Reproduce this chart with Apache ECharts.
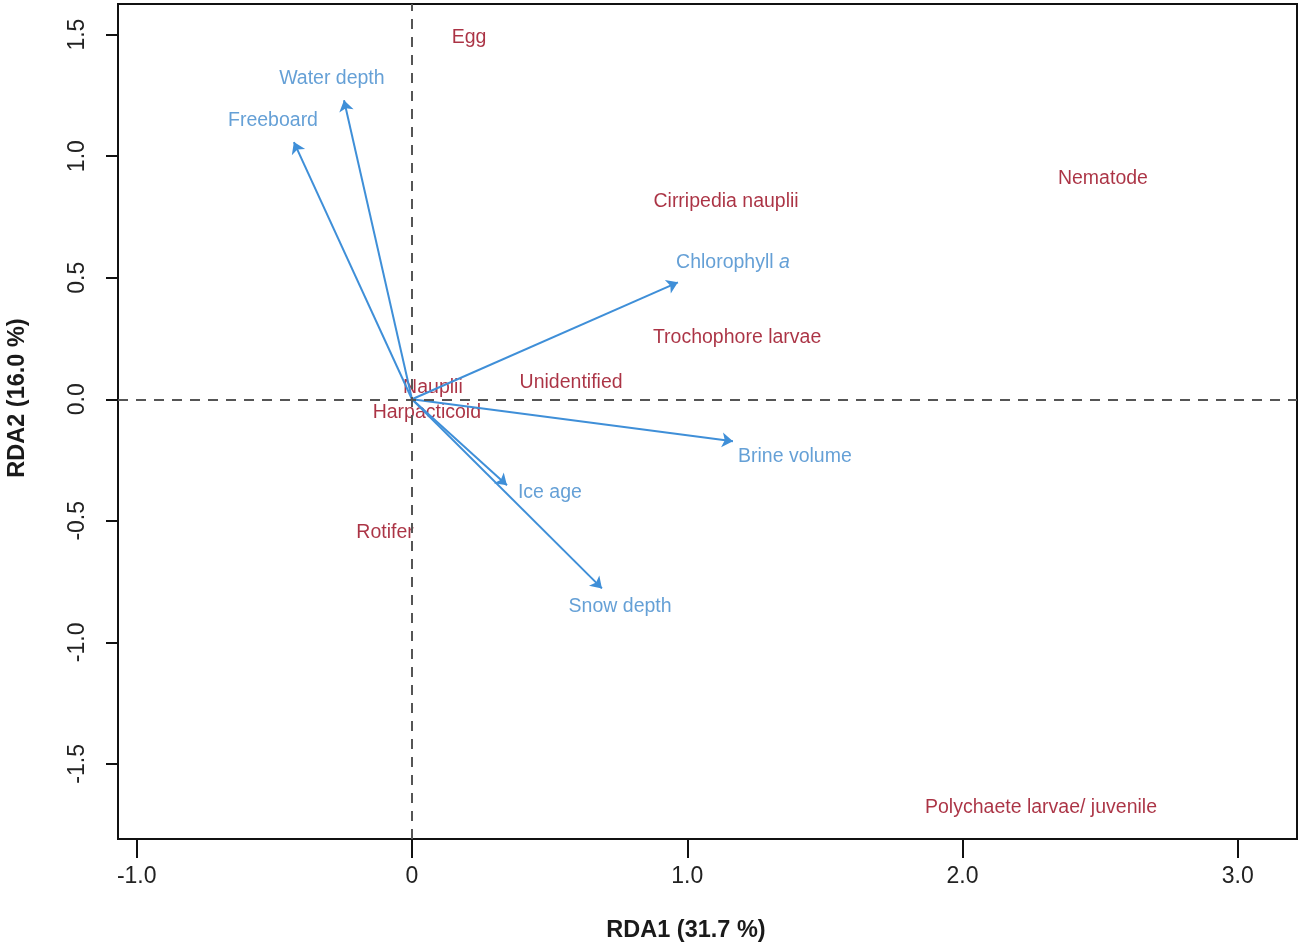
<!DOCTYPE html>
<html>
<head>
  <meta charset="UTF-8">
  <title>RDA biplot</title>
  <script src="https://cdn.jsdelivr.net/npm/echarts@6/dist/echarts.min.js"></script>
  <style>
    html, body { margin: 0; padding: 0; background: #fff; }
    #main { width: 1303px; height: 946px; }
  </style>
</head>
<body>
  <div id="main"></div>
  <script>
    // environmental variables: arrow tips and label positions
    var envNames = ['Water depth', 'Freeboard', 'Chlorophyll a', 'Brine volume', 'Ice age', 'Snow depth'];
    var envX = [-0.247, -0.429, 0.966, 1.166, 0.345, 0.690];
    var envY = [1.230, 1.058, 0.481, -0.173, -0.354, -0.778];
    var envLabelX = [-0.291, -0.505, 1.166, 1.391, 0.501, 0.756];
    var envLabelY = [1.321, 1.148, 0.564, -0.235, -0.383, -0.852];

    // species scores
    var spNames = ['Egg', 'Nematode', 'Cirripedia nauplii', 'Trochophore larvae', 'Unidentified',
      'Nauplii', 'Harpacticoid', 'Rotifer', 'Polychaete larvae/ juvenile'];
    var spX = [0.207, 2.510, 1.141, 1.181, 0.578, 0.076, 0.054, -0.098, 2.285];
    var spY = [1.486, 0.909, 0.811, 0.255, 0.070, 0.049, -0.053, -0.547, -1.679];

    // tick labels
    var xTicks = [-1, 0, 1, 2, 3];
    var yTicks = [-1.5, -1, -0.5, 0, 0.5, 1, 1.5];

    var blueLine = '#3f8fd8';
    var blueText = '#3f88cc';
    var redText = '#960016';
    var font = 'Liberation Sans, Arial, sans-serif';

    var arrows = [];
    var envLabels = [];
    for (var i = 0; i < envNames.length; i++) {
      arrows.push({ coords: [[0, 0], [envX[i], envY[i]]] });
      envLabels.push({ name: envNames[i], value: [envLabelX[i], envLabelY[i]] });
    }
    var spData = [];
    for (var j = 0; j < spNames.length; j++) {
      spData.push({ name: spNames[j], value: [spX[j], spY[j]] });
    }

    var myChart = echarts.init(document.getElementById('main'));
    var option = {
      animation: false,
      grid: {
        left: 118, right: 6, top: 4, bottom: 107,
        show: true, borderColor: '#111', borderWidth: 2, backgroundColor: 'transparent'
      },
      // axis titles
      graphic: [
        {
          type: 'text', x: 686, y: 931,
          style: {
            text: 'RDA1 (31.7 %)', fontFamily: font, fontWeight: 'bold', fontSize: 23.5,
            fill: '#1a1a1a', align: 'center', verticalAlign: 'middle'
          }
        },
        {
          type: 'text', x: 18, y: 398, rotation: Math.PI / 2,
          style: {
            text: 'RDA2 (16.0 %)', fontFamily: font, fontWeight: 'bold', fontSize: 23.5,
            fill: '#1a1a1a', align: 'center', verticalAlign: 'middle'
          }
        }
      ],
      xAxis: {
        type: 'value', min: -1.068, max: 3.215,
        axisLine: { show: true, onZero: false, lineStyle: { color: '#111', width: 2 } },
        axisTick: { show: true, length: 19, lineStyle: { color: '#111', width: 2 }, customValues: xTicks },
        axisLabel: {
          margin: 26, fontFamily: font, fontSize: 23, color: '#222',
          customValues: xTicks,
          formatter: function (v) { return v === 0 ? '0' : v.toFixed(1); }
        },
        splitLine: { show: false }
      },
      yAxis: {
        type: 'value', min: -1.809, max: 1.626,
        axisLine: { show: true, onZero: false, lineStyle: { color: '#111', width: 2 } },
        axisTick: { show: true, length: 12, lineStyle: { color: '#111', width: 2 }, customValues: yTicks },
        axisLabel: {
          margin: 29, rotate: 90, fontFamily: font, fontSize: 23, color: '#222',
          customValues: yTicks,
          formatter: function (v) { return v.toFixed(1); }
        },
        splitLine: { show: false }
      },
      series: [
        {
          type: 'scatter',
          symbolSize: 1,
          itemStyle: { color: 'rgba(0,0,0,0)' },
          data: spData,
          z: 3,
          label: {
            show: true, position: 'inside', formatter: '{b}',
            fontFamily: font, fontSize: 19.5, color: redText
          },
          markLine: {
            silent: true,
            symbol: 'none',
            label: { show: false },
            lineStyle: { color: '#555', width: 2, type: [10, 8] },
            data: [{ xAxis: 0 }, { yAxis: 0 }]
          }
        },
        {
          type: 'lines',
          coordinateSystem: 'cartesian2d',
          symbol: ['none', 'arrow'],
          symbolSize: 11,
          lineStyle: { color: blueLine, width: 2, opacity: 1 },
          data: arrows,
          z: 4
        },
        {
          type: 'scatter',
          symbolSize: 1,
          itemStyle: { color: 'rgba(0,0,0,0)' },
          data: envLabels,
          z: 5,
          label: {
            show: true, position: 'inside',
            fontFamily: font, fontSize: 19.5, color: blueText,
            formatter: function (p) {
              if (p.name === 'Chlorophyll a') return '{n|Chlorophyll }{i|a}';
              return p.name;
            },
            rich: {
              n: { fontFamily: font, fontSize: 19.5, color: blueText },
              i: { fontFamily: font, fontSize: 19.5, color: blueText, fontStyle: 'italic' }
            }
          }
        }
      ]
    };
    myChart.setOption(option);
  </script>
</body>
</html>
